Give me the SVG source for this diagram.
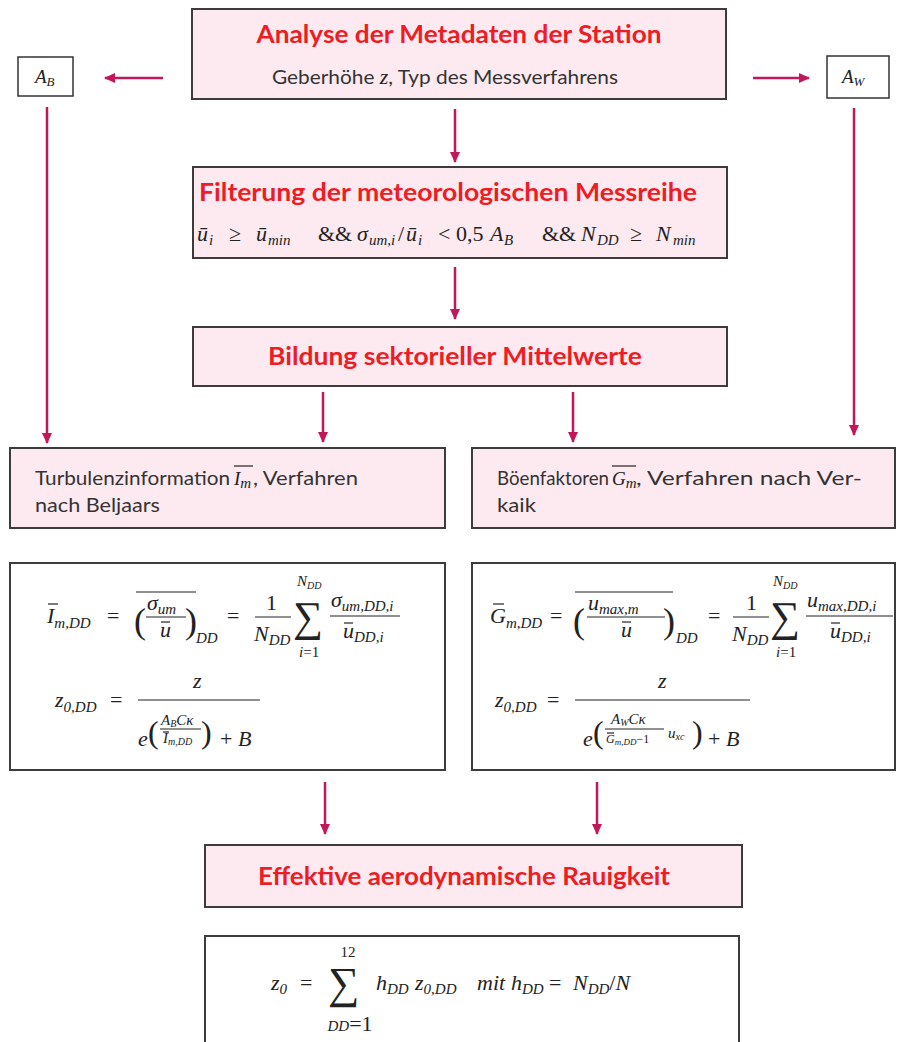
<svg xmlns="http://www.w3.org/2000/svg" width="899" height="1042" viewBox="0 0 899 1042">
<style>
.box{fill:#fdeaf0;stroke:#3c3c3c;stroke-width:2}
.wbox{fill:#ffffff;stroke:#3c3c3c;stroke-width:2}
.sbox{fill:#ffffff;stroke:#333333;stroke-width:1.5}
.title{font-family:Lato,'Open Sans',sans-serif;font-weight:bold;font-size:24px;fill:#ee1c24}
.body{font-family:Lato,'Open Sans',sans-serif;font-size:19px;fill:#333333}
.m{font-family:'Liberation Serif','DejaVu Serif',serif;font-style:italic;font-size:22px;fill:#222222}
.u{font-family:'Liberation Serif','DejaVu Serif',serif;font-style:normal;font-size:22px;fill:#222222}
.s{font-size:15px}
.ss{font-size:10px}
.bar{stroke:#222222;stroke-width:1.2}
.conn line{stroke:#c2185b;stroke-width:2.5;marker-end:url(#ah)}
</style>
<defs>
<marker id="ah" markerUnits="userSpaceOnUse" markerWidth="11" markerHeight="10" refX="10" refY="5" orient="auto">
<path d="M0,0 L11,5 L0,10 z" fill="#c2185b"/>
</marker>
</defs>
<rect width="899" height="1042" fill="#ffffff"/>

<g class="conn" id="connectors">
<line x1="455" y1="109" x2="455" y2="162"/>
<line x1="455" y1="267" x2="455" y2="319"/>
<line x1="163" y1="78" x2="105" y2="78"/>
<line x1="753" y1="78" x2="809" y2="78"/>
<line x1="47" y1="107" x2="47" y2="443"/>
<line x1="854" y1="108" x2="854" y2="435"/>
<line x1="323" y1="392" x2="323" y2="442"/>
<line x1="573" y1="392" x2="573" y2="442"/>
<line x1="325" y1="782" x2="325" y2="834"/>
<line x1="597" y1="782" x2="597" y2="834"/>
</g>

<g id="n_meta">
<rect class="box" x="192" y="9" width="534" height="90"/>
<text class="title" x="459" y="43" text-anchor="middle" textLength="405" lengthAdjust="spacingAndGlyphs">Analyse der Metadaten der Station</text>
<text class="body" x="272" y="84" textLength="346" lengthAdjust="spacingAndGlyphs">Geberhöhe <tspan class="m" style="font-size:20px">z</tspan>, Typ des Messverfahrens</text>
</g>

<g id="n_AB">
<rect class="sbox" x="18" y="57" width="55" height="39"/>
<text class="m" x="35" y="83" style="font-size:19px">A<tspan style="font-size:13px" dy="3">B</tspan></text>
</g>

<g id="n_AW">
<rect class="sbox" x="827" y="56" width="62" height="42"/>
<text class="m" x="842" y="83" style="font-size:19px">A<tspan style="font-size:13px" dy="3">W</tspan></text>
</g>

<g id="n_filter">
<rect class="box" x="193" y="167" width="534" height="91"/>
<text class="title" x="448" y="201" text-anchor="middle" textLength="498" lengthAdjust="spacingAndGlyphs">Filterung der meteorologischen Messreihe</text>
<text class="m" y="241">
<tspan x="197">ū</tspan><tspan class="s" x="209" dy="4">i</tspan>
<tspan class="u" x="229" dy="-4">≥</tspan>
<tspan x="256">ū</tspan><tspan class="s" x="268" dy="4">min</tspan>
<tspan class="u" x="318" dy="-4">&amp;&amp;</tspan>
<tspan x="357">σ</tspan><tspan class="s" x="369" dy="4">um,i</tspan>
<tspan class="u" x="398" dy="-4">/</tspan><tspan x="406">ū</tspan><tspan class="s" x="418" dy="4">i</tspan>
<tspan class="u" x="438" dy="-4">&lt; 0,5</tspan>
<tspan x="490">A</tspan><tspan class="s" x="504" dy="4">B</tspan>
<tspan class="u" x="542" dy="-4">&amp;&amp;</tspan>
<tspan x="581">N</tspan><tspan class="s" x="597" dy="4">DD</tspan>
<tspan class="u" x="630" dy="-4">≥</tspan>
<tspan x="656">N</tspan><tspan class="s" x="673" dy="4">min</tspan>
</text>
</g>

<g id="n_sektor">
<rect class="box" x="193" y="327" width="534" height="59"/>
<text class="title" x="455" y="365" text-anchor="middle" textLength="374" lengthAdjust="spacingAndGlyphs">Bildung sektorieller Mittelwerte</text>
</g>

<g id="n_turb">
<rect class="box" x="10" y="448" width="435" height="80"/>
<text class="body" x="35" y="485" textLength="195" lengthAdjust="spacingAndGlyphs">Turbulenzinformation</text>
<text class="m" x="234" y="485" style="font-size:19px">I<tspan class="s" dy="3">m</tspan></text>
<line class="bar" x1="234" y1="466" x2="253" y2="466"/>
<text class="body" x="253" y="485" textLength="105" lengthAdjust="spacingAndGlyphs">, Verfahren</text>
<text class="body" x="35" y="512" textLength="125" lengthAdjust="spacingAndGlyphs">nach Beljaars</text>
</g>

<g id="n_boen">
<rect class="box" x="472" y="448" width="423" height="80"/>
<text class="body" x="497" y="485" textLength="112" lengthAdjust="spacingAndGlyphs">Böenfaktoren</text>
<text class="m" x="612" y="485" style="font-size:19px">G<tspan class="s" dy="3">m</tspan></text>
<line class="bar" x1="612" y1="466" x2="636" y2="466"/>
<text class="body" x="636" y="485" textLength="226" lengthAdjust="spacingAndGlyphs">, Verfahren nach Ver-</text>
<text class="body" x="497" y="512" textLength="39" lengthAdjust="spacingAndGlyphs">kaik</text>
</g>

<g id="n_formel_beljaars">
<rect class="wbox" x="10" y="563" width="435" height="207"/>
<text class="m" x="47" y="623">I<tspan class="s" dy="5">m,DD</tspan></text>
<line class="bar" x1="48" y1="604" x2="58" y2="604"/>
<text class="u" x="107" y="623">=</text>
<text class="u" x="134" y="633" style="font-size:36px">(</text>
<text class="m" x="147" y="610">σ<tspan class="s" dy="4">um</tspan></text>
<line class="bar" x1="146" y1="617" x2="186" y2="617"/>
<text class="m" x="160" y="637">u</text>
<line class="bar" x1="161" y1="622" x2="170" y2="622"/>
<text class="u" x="185" y="633" style="font-size:36px">)</text>
<line class="bar" x1="136" y1="592" x2="196" y2="592"/>
<text class="m s" x="196" y="643">DD</text>
<text class="u" x="227" y="623">=</text>
<text class="u" x="266" y="610">1</text>
<line class="bar" x1="255" y1="617" x2="291" y2="617"/>
<text class="m" x="254" y="641">N<tspan class="s" dy="4">DD</tspan></text>
<text class="u" x="293" y="631" style="font-size:42px">∑</text>
<text class="m s" x="297" y="586">N<tspan class="ss" dy="3">DD</tspan></text>
<text class="m s" x="299" y="657">i<tspan class="u s">=1</tspan></text>
<text class="m" x="331" y="607">σ<tspan class="s" dy="4">um,DD,i</tspan></text>
<line class="bar" x1="330" y1="616" x2="400" y2="616"/>
<text class="m" x="343" y="638">u<tspan class="s" dy="4">DD,i</tspan></text>
<line class="bar" x1="344" y1="623" x2="353" y2="623"/>

<text class="m" x="55" y="707">z<tspan class="s" dy="5">0,DD</tspan></text>
<text class="u" x="110" y="707">=</text>
<line class="bar" x1="138" y1="700" x2="260" y2="700"/>
<text class="m" x="193" y="688">z</text>
<text class="m" x="138" y="746">e</text>
<text class="u" x="148" y="743" style="font-size:32px">(</text>
<text class="m s" x="161" y="725">A<tspan class="ss" dy="2">B</tspan><tspan dy="-2">Cκ</tspan></text>
<line class="bar" x1="160" y1="729" x2="201" y2="729"/>
<text class="m s" x="163" y="743">I<tspan class="ss" dy="2">m,DD</tspan></text>
<line class="bar" x1="163" y1="732" x2="169" y2="732"/>
<text class="u" x="201" y="743" style="font-size:32px">)</text>
<text class="u" x="220" y="746">+ <tspan class="m">B</tspan></text>
</g>

<g id="n_formel_verkaik">
<rect class="wbox" x="472" y="563" width="423" height="207"/>
<text class="m" x="490" y="623">G<tspan class="s" dy="5">m,DD</tspan></text>
<line class="bar" x1="493" y1="604" x2="504" y2="604"/>
<text class="u" x="550" y="623">=</text>
<text class="u" x="573" y="633" style="font-size:36px">(</text>
<text class="m" x="588" y="610">u<tspan class="s" dy="4">max,m</tspan></text>
<line class="bar" x1="587" y1="617" x2="665" y2="617"/>
<text class="m" x="621" y="637">u</text>
<line class="bar" x1="622" y1="622" x2="631" y2="622"/>
<text class="u" x="663" y="633" style="font-size:36px">)</text>
<line class="bar" x1="575" y1="592" x2="673" y2="592"/>
<text class="m s" x="676" y="643">DD</text>
<text class="u" x="708" y="623">=</text>
<text class="u" x="746" y="610">1</text>
<line class="bar" x1="733" y1="617" x2="769" y2="617"/>
<text class="m" x="732" y="641">N<tspan class="s" dy="4">DD</tspan></text>
<text class="u" x="770" y="631" style="font-size:42px">∑</text>
<text class="m s" x="773" y="586">N<tspan class="ss" dy="3">DD</tspan></text>
<text class="m s" x="776" y="657">i<tspan class="u s">=1</tspan></text>
<text class="m" x="807" y="607">u<tspan class="s" dy="4">max,DD,i</tspan></text>
<line class="bar" x1="806" y1="616" x2="893" y2="616"/>
<text class="m" x="830" y="638">u<tspan class="s" dy="4">DD,i</tspan></text>
<line class="bar" x1="831" y1="623" x2="840" y2="623"/>

<text class="m" x="495" y="707">z<tspan class="s" dy="5">0,DD</tspan></text>
<text class="u" x="547" y="707">=</text>
<line class="bar" x1="575" y1="700" x2="750" y2="700"/>
<text class="m" x="658" y="688">z</text>
<text class="m" x="583" y="746">e</text>
<text class="u" x="593" y="743" style="font-size:32px">(</text>
<text class="m s" x="611" y="724">A<tspan class="ss" dy="2">W</tspan><tspan dy="-2">Cκ</tspan></text>
<line class="bar" x1="605" y1="729" x2="664" y2="729"/>
<text class="m" x="606" y="743" style="font-size:12px">G<tspan style="font-size:9px" dy="2">m,DD</tspan><tspan class="u" style="font-size:12px" dy="-2">−1</tspan></text>
<line class="bar" x1="607" y1="733" x2="614" y2="733"/>
<text class="m s" x="668" y="738">u<tspan class="ss" dy="2">xc</tspan></text>
<text class="u" x="692" y="743" style="font-size:32px">)</text>
<text class="u" x="708" y="746">+ <tspan class="m">B</tspan></text>
</g>

<g id="n_effektiv">
<rect class="box" x="205" y="845" width="537" height="62"/>
<text class="title" x="464" y="885" text-anchor="middle" textLength="412" lengthAdjust="spacingAndGlyphs">Effektive aerodynamische Rauigkeit</text>
</g>

<g id="n_formel_z0">
<rect class="wbox" x="205" y="936" width="534" height="112"/>
<text class="m" x="271" y="990">z<tspan class="s" dy="4">0</tspan></text>
<text class="u" x="300" y="990">=</text>
<text class="u" x="328" y="998" style="font-size:44px">∑</text>
<text class="u s" x="348" y="957" text-anchor="middle">12</text>
<text class="m s" x="350" y="1031" text-anchor="middle">DD<tspan class="u">=1</tspan></text>
<text class="m" x="376" y="990">h<tspan class="s" dy="4">DD</tspan></text>
<text class="m" x="415" y="990">z<tspan class="s" dy="4">0,DD</tspan></text>
<text class="m" x="477" y="990">mit</text>
<text class="m" x="511" y="990">h<tspan class="s" dy="4">DD</tspan></text>
<text class="u" x="549" y="990">=</text>
<text class="m" x="573" y="990">N<tspan class="s" dy="4">DD</tspan><tspan class="u" dy="-4">/</tspan>N</text>
</g>
</svg>
